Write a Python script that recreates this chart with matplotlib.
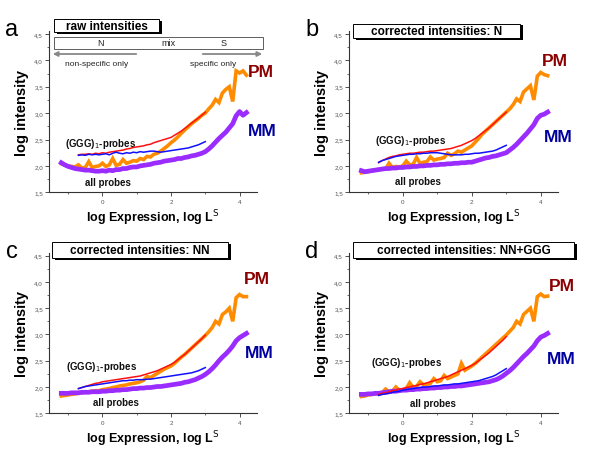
import numpy as np
import matplotlib
matplotlib.use("Agg")
import matplotlib.pyplot as plt
from matplotlib.patches import Rectangle, FancyArrowPatch
from matplotlib.ticker import MultipleLocator, FuncFormatter

plt.rcParams['font.family'] = ['Liberation Sans', 'DejaVu Sans']

# ---------------- data ----------------
# x positions (log expression) for the "all probes" curves and the (GGG)1 curves
X_ALL = [-1.2, -1.1, -1.0, -0.9, -0.8, -0.7, -0.6, -0.5, -0.4, -0.3, -0.2, -0.1,
         0.0, 0.1, 0.2, 0.3, 0.4, 0.5, 0.6, 0.7, 0.8, 0.9, 1.0, 1.1, 1.2, 1.3,
         1.4, 1.5, 1.6, 1.7, 1.8, 1.9, 2.0, 2.1, 2.2, 2.3, 2.4, 2.5, 2.6, 2.7,
         2.8, 2.9, 3.0, 3.1, 3.2, 3.3, 3.4, 3.5, 3.6, 3.7, 3.8, 3.9, 4.0, 4.1, 4.2]
X_GGG = [-0.7, -0.6, -0.5, -0.4, -0.3, -0.2, -0.1, 0.0, 0.1, 0.2, 0.3, 0.4,
         0.5, 0.6, 0.7, 0.8, 0.9, 1.0, 1.1, 1.2, 1.3, 1.4, 1.5, 1.6, 1.7, 1.8,
         1.9, 2.0, 2.1, 2.2, 2.3, 2.4, 2.5, 2.6, 2.7, 2.8, 2.9, 3.0]

# panel a: raw intensities
pm_all_a = [2.04, 2.02, 2.00, 1.99, 1.98, 2.02, 1.96, 1.97, 2.08, 1.97, 1.99, 2.00,
            2.05, 1.99, 2.02, 2.14, 2.01, 2.03, 2.12, 2.05, 2.07, 2.10, 2.09, 2.14,
            2.12, 2.18, 2.17, 2.22, 2.24, 2.28, 2.33, 2.38, 2.44, 2.49, 2.55, 2.62,
            2.68, 2.74, 2.80, 2.85, 2.90, 2.96, 3.00, 3.08, 3.15, 3.26, 3.20, 3.38,
            3.45, 3.50, 3.22, 3.80, 3.76, 3.80, 3.72]
mm_all_a = [2.06, 2.02, 1.99, 1.97, 1.95, 1.94, 1.93, 1.92, 1.92, 1.91, 1.90, 1.90,
            1.91, 1.90, 1.92, 1.91, 1.93, 1.93, 1.95, 1.95, 1.97, 1.98, 1.98, 2.00,
            2.01, 2.02, 2.03, 2.05, 2.06, 2.07, 2.09, 2.10, 2.11, 2.12, 2.14, 2.14,
            2.16, 2.17, 2.19, 2.20, 2.22, 2.24, 2.27, 2.32, 2.38, 2.45, 2.52, 2.58,
            2.64, 2.72, 2.80, 2.95, 3.03, 2.96, 3.01]
pm_ggg_a = [2.21, 2.22, 2.22, 2.23, 2.22, 2.24, 2.23, 2.25, 2.24, 2.26, 2.27, 2.28,
            2.29, 2.30, 2.32, 2.33, 2.35, 2.36, 2.37, 2.38, 2.40, 2.41, 2.44, 2.46,
            2.48, 2.50, 2.52, 2.54, 2.58, 2.62, 2.66, 2.71, 2.76, 2.81, 2.86, 2.91,
            2.96, 3.02]
mm_ggg_a = [2.20, 2.21, 2.20, 2.22, 2.21, 2.22, 2.21, 2.22, 2.23, 2.21, 2.24, 2.26,
            2.24, 2.23, 2.25, 2.24, 2.26, 2.25, 2.27, 2.26, 2.27, 2.28, 2.28, 2.27,
            2.26, 2.27, 2.28, 2.29, 2.30, 2.31, 2.32, 2.33, 2.34, 2.36, 2.38, 2.40,
            2.43, 2.46]

# panel b: corrected N
pm_all_b = [1.87, 1.88, 1.89, 1.91, 1.92, 1.93, 1.95, 1.94, 2.05, 1.97, 1.99, 1.98,
            2.00, 2.09, 2.02, 2.03, 2.16, 2.05, 2.07, 2.08, 2.17, 2.11, 2.13, 2.14,
            2.16, 2.24, 2.20, 2.23, 2.28, 2.26, 2.30, 2.34, 2.38, 2.45, 2.52, 2.60,
            2.66, 2.72, 2.78, 2.84, 2.90, 2.96, 3.02, 3.08, 3.16, 3.27, 3.22, 3.40,
            3.46, 3.52, 3.25, 3.70, 3.77, 3.73, 3.71]
mm_all_b = [1.91, 1.89, 1.90, 1.91, 1.92, 1.93, 1.94, 1.95, 1.95, 1.96, 1.96, 1.97,
            1.97, 1.98, 1.98, 1.99, 1.99, 2.00, 2.00, 2.01, 2.01, 2.02, 2.02, 2.03,
            2.03, 2.04, 2.04, 2.05, 2.05, 2.06, 2.06, 2.07, 2.07, 2.09, 2.11, 2.13,
            2.15, 2.16, 2.18, 2.19, 2.21, 2.23, 2.25, 2.30, 2.35, 2.41, 2.48, 2.55,
            2.62, 2.70, 2.78, 2.90, 2.96, 2.98, 3.02]
pm_ggg_b = [2.06, 2.10, 2.13, 2.16, 2.18, 2.19, 2.21, 2.22, 2.23, 2.24, 2.24, 2.25,
            2.26, 2.26, 2.27, 2.28, 2.28, 2.29, 2.30, 2.31, 2.32, 2.33, 2.35, 2.37,
            2.39, 2.42, 2.45, 2.48, 2.52, 2.57, 2.62, 2.67, 2.72, 2.78, 2.84, 2.90,
            2.96, 3.02]
mm_ggg_b = [2.07, 2.10, 2.12, 2.14, 2.16, 2.18, 2.19, 2.20, 2.21, 2.22, 2.22, 2.23,
            2.23, 2.24, 2.24, 2.25, 2.25, 2.25, 2.24, 2.23, 2.22, 2.21, 2.21, 2.21,
            2.21, 2.22, 2.22, 2.23, 2.24, 2.24, 2.25, 2.26, 2.27, 2.28, 2.30, 2.33,
            2.36, 2.39]

# panel c: corrected NN
pm_all_c = [1.83, 1.84, 1.85, 1.86, 1.87, 1.88, 1.89, 1.90, 1.91, 1.92, 1.93, 1.93,
            1.95, 1.96, 1.97, 1.99, 2.00, 2.02, 2.03, 2.04, 2.06, 2.07, 2.08, 2.10,
            2.13, 2.20, 2.18, 2.22, 2.26, 2.30, 2.34, 2.37, 2.40, 2.45, 2.51, 2.57,
            2.62, 2.68, 2.74, 2.80, 2.86, 2.92, 2.98, 3.05, 3.13, 3.25, 3.20, 3.38,
            3.43, 3.50, 3.25, 3.70, 3.76, 3.72, 3.72]
mm_all_c = [1.88, 1.88, 1.88, 1.89, 1.89, 1.89, 1.90, 1.90, 1.90, 1.91, 1.91, 1.91,
            1.92, 1.92, 1.93, 1.93, 1.94, 1.94, 1.95, 1.95, 1.96, 1.97, 1.97, 1.98,
            1.98, 1.99, 1.99, 2.00, 2.01, 2.01, 2.02, 2.03, 2.04, 2.05, 2.06, 2.07,
            2.09, 2.10, 2.12, 2.14, 2.17, 2.20, 2.24, 2.29, 2.35, 2.42, 2.50, 2.57,
            2.63, 2.70, 2.78, 2.88, 2.94, 2.98, 3.02]
pm_ggg_c = [1.97, 1.99, 2.01, 2.03, 2.05, 2.07, 2.08, 2.10, 2.11, 2.12, 2.13, 2.14,
            2.15, 2.16, 2.17, 2.18, 2.19, 2.20, 2.21, 2.23, 2.25, 2.27, 2.29, 2.31,
            2.34, 2.37, 2.40, 2.43, 2.47, 2.52, 2.57, 2.62, 2.68, 2.74, 2.80, 2.86,
            2.92, 2.99]
mm_ggg_c = [1.97, 1.99, 2.01, 2.02, 2.03, 2.04, 2.05, 2.06, 2.07, 2.08, 2.09, 2.10,
            2.11, 2.12, 2.12, 2.13, 2.13, 2.14, 2.14, 2.14, 2.15, 2.15, 2.16, 2.17,
            2.18, 2.19, 2.20, 2.21, 2.22, 2.23, 2.24, 2.25, 2.26, 2.27, 2.29, 2.31,
            2.34, 2.37]

# panel d: corrected NN+GGG
pm_all_d = [1.82, 1.83, 1.85, 1.86, 1.87, 1.88, 1.89, 1.96, 1.91, 1.92, 2.00, 1.94,
            1.95, 1.97, 2.08, 1.99, 2.01, 2.10, 2.04, 2.05, 2.07, 2.16, 2.10, 2.12,
            2.22, 2.16, 2.19, 2.22, 2.25, 2.45, 2.32, 2.36, 2.40, 2.45, 2.51, 2.57,
            2.63, 2.69, 2.75, 2.81, 2.87, 2.93, 2.99, 3.06, 3.13, 3.25, 3.20, 3.38,
            3.44, 3.50, 3.25, 3.72, 3.77, 3.72, 3.73]
mm_all_d = [1.86, 1.86, 1.87, 1.87, 1.88, 1.88, 1.89, 1.90, 1.91, 1.92, 1.92, 1.93,
            1.94, 1.94, 1.95, 1.95, 1.96, 1.96, 1.97, 1.97, 1.98, 1.98, 1.99, 1.99,
            2.00, 2.00, 2.01, 2.01, 2.02, 2.02, 2.03, 2.04, 2.05, 2.06, 2.07, 2.08,
            2.09, 2.10, 2.12, 2.14, 2.17, 2.21, 2.26, 2.31, 2.37, 2.44, 2.51, 2.58,
            2.64, 2.71, 2.78, 2.88, 2.95, 2.98, 3.02]
pm_ggg_d = [1.86, 1.88, 1.89, 1.91, 1.93, 1.94, 1.96, 1.97, 1.99, 2.00, 2.02, 2.03,
            2.05, 2.06, 2.08, 2.10, 2.12, 2.14, 2.16, 2.18, 2.20, 2.23, 2.26, 2.29,
            2.32, 2.35, 2.38, 2.41, 2.45, 2.50, 2.55, 2.60, 2.65, 2.71, 2.77, 2.83,
            2.89, 2.96]
mm_ggg_d = [1.84, 1.86, 1.87, 1.88, 1.90, 1.91, 1.92, 1.94, 1.95, 1.96, 1.97, 1.98,
            1.99, 2.00, 2.00, 2.01, 2.02, 2.02, 2.03, 2.04, 2.04, 2.05, 2.06, 2.06,
            2.07, 2.08, 2.09, 2.10, 2.11, 2.12, 2.14, 2.16, 2.18, 2.20, 2.23, 2.27,
            2.31, 2.35]

panel_letters = ["a", "b", "c", "d"]
panel_titles = ["raw intensities", "corrected intensities: N",
                "corrected intensities: NN", "corrected intensities: NN+GGG"]
Y_TICKS = [1.5, 2.0, 2.5, 3.0, 3.5, 4.0, 4.5]
X_TICKS = [0, 2, 4]

# ---------------- layout ----------------
W, H = 600, 452
fig = plt.figure(figsize=(6.0, 4.52), dpi=100)

def fx(px):
    return px / W

def fy(py):
    return 1 - py / H

C_ORANGE = "#ff8c00"
C_PURPLE = "#9a2cff"
C_RED = "#ff1010"
C_BLUE = "#1010ff"
C_PM = "#8b0000"
C_MM = "#0000a0"

panels = [
    dict(left=49.3, right=256.7, top=31.8, bottom=193.3,
         pm=pm_all_a, mm=mm_all_a, pg=pm_ggg_a, mg=mm_ggg_a,
         letter=(12, 30), box=(54, 159, 20, 33),
         pm_lab=(4.62, 3.78), mm_lab=(4.66, 2.68),
         ggg_lab=(-0.05, 2.43), all_lab=(0.15, 1.69)),
    dict(left=349.3, right=558, top=31.8, bottom=193.3,
         pm=pm_all_b, mm=mm_all_b, pg=pm_ggg_b, mg=mm_ggg_b,
         letter=(312, 30), box=(353, 520, 25, 39),
         pm_lab=(4.42, 4.0), mm_lab=(4.5, 2.56),
         ggg_lab=(0.23, 2.49), all_lab=(0.44, 1.71)),
    dict(left=49.3, right=256.7, top=253.5, bottom=414.3,
         pm=pm_all_c, mm=mm_all_c, pg=pm_ggg_c, mg=mm_ggg_c,
         letter=(12, 252), box=(52, 228, 243, 259),
         pm_lab=(4.5, 4.06), mm_lab=(4.57, 2.66),
         ggg_lab=(-0.03, 2.40), all_lab=(0.38, 1.71)),
    dict(left=349.3, right=558, top=253.5, bottom=414.3,
         pm=pm_all_d, mm=mm_all_d, pg=pm_ggg_d, mg=mm_ggg_d,
         letter=(312, 252), box=(353, 574, 243, 259),
         pm_lab=(4.62, 3.93), mm_lab=(4.6, 2.55),
         ggg_lab=(0.12, 2.47), all_lab=(0.87, 1.70)),
]

for i, p in enumerate(panels):
    ax = fig.add_axes([fx(p["left"]), fy(p["bottom"]),
                       (p["right"] - p["left"]) / W, (p["bottom"] - p["top"]) / H])
    ax.set_xlim(-1.55, 4.5)
    ax.set_ylim(1.5, 4.56)
    for s in ("top", "right"):
        ax.spines[s].set_visible(False)
    for s in ("left", "bottom"):
        ax.spines[s].set_linewidth(0.8)
        ax.spines[s].set_color("#333333")
    ax.set_yticks(Y_TICKS)
    ax.yaxis.set_minor_locator(MultipleLocator(0.25))
    ax.set_xticks(X_TICKS)
    ax.xaxis.set_minor_locator(MultipleLocator(1.0))
    ax.yaxis.set_major_formatter(FuncFormatter(lambda v, pos: f"{v:.1f}".replace(".", ",")))
    ax.tick_params(axis="both", which="major", labelsize=4.5, labelcolor="#555555",
                   length=3, width=0.6, color="#333333", pad=1.5)
    ax.tick_params(axis="both", which="minor", length=1.5, width=0.5, color="#333333")

    ax.plot(X_ALL, p["pm"], color=C_ORANGE, lw=2.6, solid_joinstyle="miter", zorder=2)
    ax.plot(X_ALL, p["mm"], color=C_PURPLE, lw=3.4, zorder=3)
    ax.plot(X_GGG, p["pg"], color=C_RED, lw=1.1, zorder=4)
    ax.plot(X_GGG, p["mg"], color=C_BLUE, lw=1.1, zorder=5)

    ax.set_ylabel("log intensity", fontsize=10.5, fontweight="bold", labelpad=4)
    ax.set_xlabel(r"log Expression, log L$^{\rm S}$", fontsize=9, fontweight="bold",
                  labelpad=3)

    ax.text(*p["pm_lab"], "PM", color=C_PM, fontsize=12.5, fontweight="bold",
            ha="center", va="center", clip_on=False)
    ax.text(*p["mm_lab"], "MM", color=C_MM, fontsize=12.5, fontweight="bold",
            ha="center", va="center", clip_on=False)
    ax.text(*p["ggg_lab"], r"(GGG)$_{\rm 1}$-probes", fontsize=7, fontweight="bold",
            ha="center", va="center", color="#111111")
    ax.text(*p["all_lab"], "all probes", fontsize=7, fontweight="bold",
            ha="center", va="center", color="#111111")

    # panel letter
    fig.text(fx(p["letter"][0]), fy(p["letter"][1]), panel_letters[i], fontsize=17,
             ha="center", va="center")

    # title box with shadow
    x0, x1, y0, y1 = p["box"]
    sh = 3
    fig.patches.append(Rectangle((fx(x0 + sh), fy(y1 + 1.5)), (x1 - x0) / W, (y1 - y0) / H,
                                 transform=fig.transFigure, facecolor="black",
                                 edgecolor="none", zorder=5))
    fig.patches.append(Rectangle((fx(x0), fy(y1)), (x1 - x0) / W, (y1 - y0) / H,
                                 transform=fig.transFigure, facecolor="white",
                                 edgecolor="black", linewidth=0.7, zorder=6))
    fig.text(fx((x0 + x1) / 2), fy((y0 + y1) / 2), panel_titles[i], fontsize=8.5,
             fontweight="bold", ha="center", va="center", zorder=7)

# N / mix / S bar in panel a
fig.patches.append(Rectangle((fx(54), fy(50)), (263 - 54) / W, 12 / H,
                             transform=fig.transFigure, facecolor="white",
                             edgecolor="#444444", linewidth=0.6, zorder=5))
for txt, px in (("N", 100), ("mix", 168), ("S", 224)):
    fig.text(fx(px), fy(44), txt, fontsize=6.5, ha="center", va="center",
             color="#222222", zorder=8)
fig.patches.append(FancyArrowPatch((fx(139), fy(55)), (fx(50), fy(55)),
                                   transform=fig.transFigure, arrowstyle="-|>",
                                   mutation_scale=7, color="#888888", lw=1.3))
fig.patches.append(FancyArrowPatch((fx(200), fy(55)), (fx(265), fy(55)),
                                   transform=fig.transFigure, arrowstyle="-|>",
                                   mutation_scale=7, color="#888888", lw=1.3))
fig.text(fx(97), fy(65), "non-specific only", fontsize=6, ha="center", va="center",
         color="#222222")
fig.text(fx(213), fy(64), "specific only", fontsize=6, ha="center", va="center",
         color="#222222")

fig.savefig("out.png", dpi=100)
